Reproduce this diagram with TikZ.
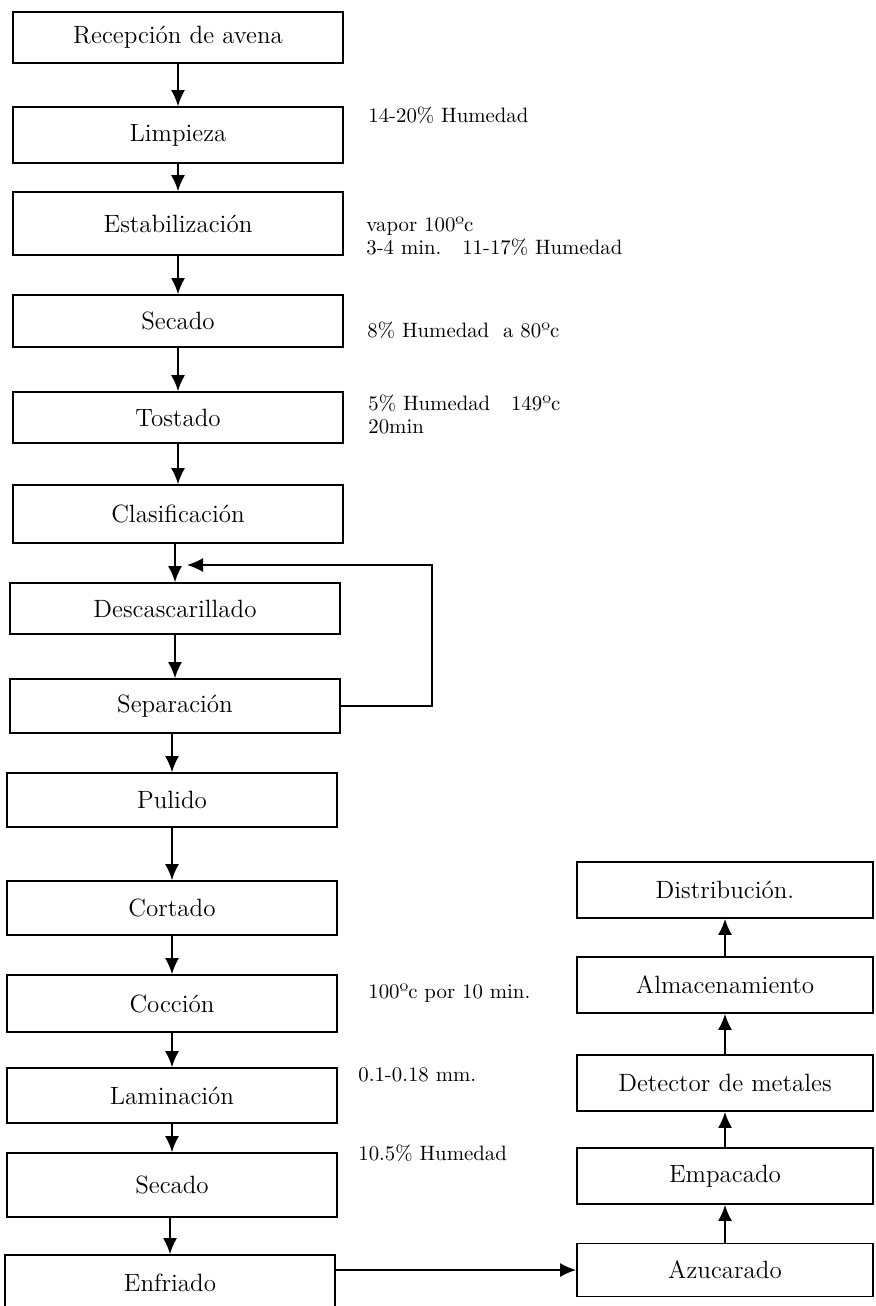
\documentclass[tikz,border=0pt]{standalone}
\usetikzlibrary{arrows.meta,positioning}
\begin{document}
\begin{tikzpicture}[
                            x=0.5pt, y=-0.5pt,
                            >={Latex[length=8pt,width=7pt]},
                            proc/.style={rectangle, draw, line width=0.9pt, minimum width=165pt, inner sep=0pt, font=\fontsize{12.5}{14}\selectfont},
                            note/.style={anchor=west, align=left, inner sep=0pt, font=\fontsize{10.4}{11.5}\selectfont},
                            flow/.style={->, line width=0.8pt}
                        ]
                        \useasboundingbox (0,0) rectangle (875,1306);
                        % Blocks
                        \node [proc, minimum height=25.5pt] (rec) at (178,37.5) {Recepción de avena};
                        \node [proc, minimum height=28pt] (limp) at (178,135) {Limpieza};
                        \node [proc, minimum height=31.5pt] (estab) at (178,223.5) {Estabilización};
                        \node [proc, minimum height=26pt] (seca) at (178,321) {Secado};
                        \node [proc, minimum height=25.5pt] (tost) at (178,417.5) {Tostado};
                        \node [proc, minimum height=29pt] (clas) at (178,514) {Clasificación};
                        \node [proc, minimum height=25.5pt] (desc) at (175,608.5) {Descascarillado};
                        \node [proc, minimum height=27pt] (sep) at (175,706) {Separación};
                        \node [proc, minimum height=27pt] (pul) at (172,800) {Pulido};
                        \node [proc, minimum height=27pt] (cort) at (172,908) {Cortado};
                        \node [proc, minimum height=28.5pt] (cocc) at (172,1003.5) {Cocción};
                        \node [proc, minimum height=27.5pt] (lam) at (172,1095.5) {Laminación};
                        \node [proc, minimum height=32pt] (secb) at (172,1185) {Secado};
                        \node [proc, minimum height=28pt] (enf) at (170,1283) {Enfriado};
                        \node [proc, minimum width=148pt, minimum height=26.5pt] (azu) at (725,1270) {Azucarado};
                        \node [proc, minimum width=148pt, minimum height=28pt] (emp) at (725,1176) {Empacado};
                        \node [proc, minimum width=148pt, minimum height=28pt] (det) at (725,1083) {Detector de metales};
                        \node [proc, minimum width=148pt, minimum height=28pt] (alm) at (725,985) {Almacenamiento};
                        \node [proc, minimum width=148pt, minimum height=28pt] (dist) at (725,890) {Distribución.};

                        % Notes
                        \node [note] (n1) at (368,115) {14-20\% Humedad};
                        \node [note] (n2) at (366,236) {vapor 100ºc\\3-4 min.~~~11-17\% Humedad};
                        \node [note] (n3) at (367,330) {8\% Humedad~~a 80ºc};
                        \node [note] (n4) at (368,414.5) {5\% Humedad~~~149ºc\\20min};
                        \node [note] (n5) at (368,993) {100ºc por 10 min.};
                        \node [note] (n6) at (358,1075) {0.1-0.18 mm.};
                        \node [note] (n7) at (358,1153) {10.5\% Humedad};

                        % Connections
                        \coordinate (loopturn) at (432,565);
                        \coordinate (loopin) at (187,565);
                        \draw [flow] (rec) -- (limp);
                        \draw [flow] (limp) -- (estab);
                        \draw [flow] (estab) -- (seca);
                        \draw [flow] (seca) -- (tost);
                        \draw [flow] (tost) -- (clas);
                        \draw [flow] (clas.south -| desc.north) -- (desc.north);
                        \draw [flow] (desc) -- (sep);
                        \draw [flow] (sep.east) -| (loopturn) -- (loopin);
                        \draw [flow] (sep.south -| pul.north) -- (pul.north);
                        \draw [flow] (pul) -- (cort);
                        \draw [flow] (cort) -- (cocc);
                        \draw [flow] (cocc) -- (lam);
                        \draw [flow] (lam) -- (secb);
                        \draw [flow] (secb.south -| enf.north) -- (enf.north);
                        \draw [flow] (enf.east |- azu.west) -- (azu.west);
                        \draw [flow] (azu) -- (emp);
                        \draw [flow] (emp) -- (det);
                        \draw [flow] (det) -- (alm);
                        \draw [flow] (alm) -- (dist);
                    \end{tikzpicture}
\end{document}
